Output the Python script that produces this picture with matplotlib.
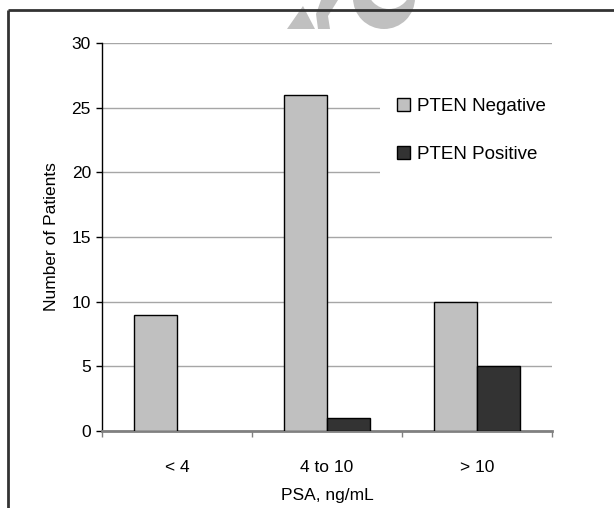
import numpy as np
import matplotlib
matplotlib.use("Agg")
import matplotlib.pyplot as plt
from matplotlib.patches import Polygon, Circle

plt.rcParams['font.family'] = ['Liberation Sans', 'DejaVu Sans']

# data
categories = ['< 4', '4 to 10', '> 10']
pten_negative = [9, 26, 10]
pten_positive = [0, 1, 5]

W, H = 614, 508
fig = plt.figure(figsize=(W / 100, H / 100), dpi=100)

# watermark + frame in pixel coords
over = fig.add_axes([0, 0, 1, 1], zorder=0)
over.set_xlim(0, W)
over.set_ylim(H, 0)
over.axis('off')
wm = '#c0c0c0'
over.add_patch(Polygon([(287, 29), (303, 6), (315, 29)], closed=True, color=wm, lw=0))
over.add_patch(Polygon([(318, 29), (330, 29), (328, 16), (338, 0), (321, 0), (316, 14)],
                       closed=True, color=wm, lw=0))
over.add_patch(Circle((384, -2), 31, color=wm, lw=0))
over.add_patch(Circle((389, -13), 22, color='white', lw=0))
over.plot([7.5, W], [9.5, 9.5], color='#333333', lw=2, solid_capstyle='butt')
over.plot([7.5, 7.5], [9.5, H], color='#333333', lw=2, solid_capstyle='butt')

# main chart
ax = fig.add_axes([102 / W, 1 - 431 / H, (552 - 102) / W, (431 - 43) / H], zorder=1)
ax.set_facecolor('none')

x = np.arange(len(categories)) + 0.5
bw = 0.287
ax.bar(x - bw / 2, pten_negative, width=bw, color='#c0c0c0',
       edgecolor=['black' if v else 'none' for v in pten_negative],
       linewidth=1, label='PTEN Negative', zorder=3)
ax.bar(x + bw / 2, pten_positive, width=bw, color='#333333',
       edgecolor=['black' if v else 'none' for v in pten_positive],
       linewidth=1, label='PTEN Positive', zorder=3)

ax.set_xlim(0, 3)
ax.set_ylim(0, 30)
ax.set_yticks(range(0, 31, 5))
ax.yaxis.grid(True, color='#a6a6a6', linewidth=1, zorder=0)
ax.set_axisbelow(True)

ax.set_xticks([0, 1, 2, 3])
ax.set_xticklabels([])
ax.set_xticks(x, minor=True)
ax.set_xticklabels(categories, minor=True)
ax.tick_params(axis='x', which='major', direction='out', length=4, width=1, color='#808080')
ax.tick_params(axis='x', which='minor', length=0, pad=21, labelsize=12.5)
ax.tick_params(axis='y', direction='out', length=4, width=1, color='black', pad=4, labelsize=12.5)

for s in ['top', 'right']:
    ax.spines[s].set_visible(False)
ax.spines['bottom'].set_color('#808080')
ax.spines['bottom'].set_linewidth(2)
ax.spines['left'].set_color('black')
ax.spines['left'].set_linewidth(1)

ax.set_xlabel('PSA, ng/mL', fontsize=12.5, labelpad=9)
ax.set_ylabel('Number of Patients', fontsize=12.5, labelpad=9)

leg = ax.legend(loc='upper left', bbox_to_anchor=(380 / W, 1 - 81 / H),
                bbox_transform=fig.transFigure, fontsize=13.5, frameon=True,
                fancybox=False, edgecolor='none', facecolor='white', framealpha=1,
                handlelength=0.7, handleheight=0.7, handletextpad=0.35,
                labelspacing=1.65, borderpad=0.9, borderaxespad=0)
for p in leg.get_patches():
    p.set_linewidth(1)
    p.set_edgecolor('black')

fig.savefig('out.png', dpi=100)
